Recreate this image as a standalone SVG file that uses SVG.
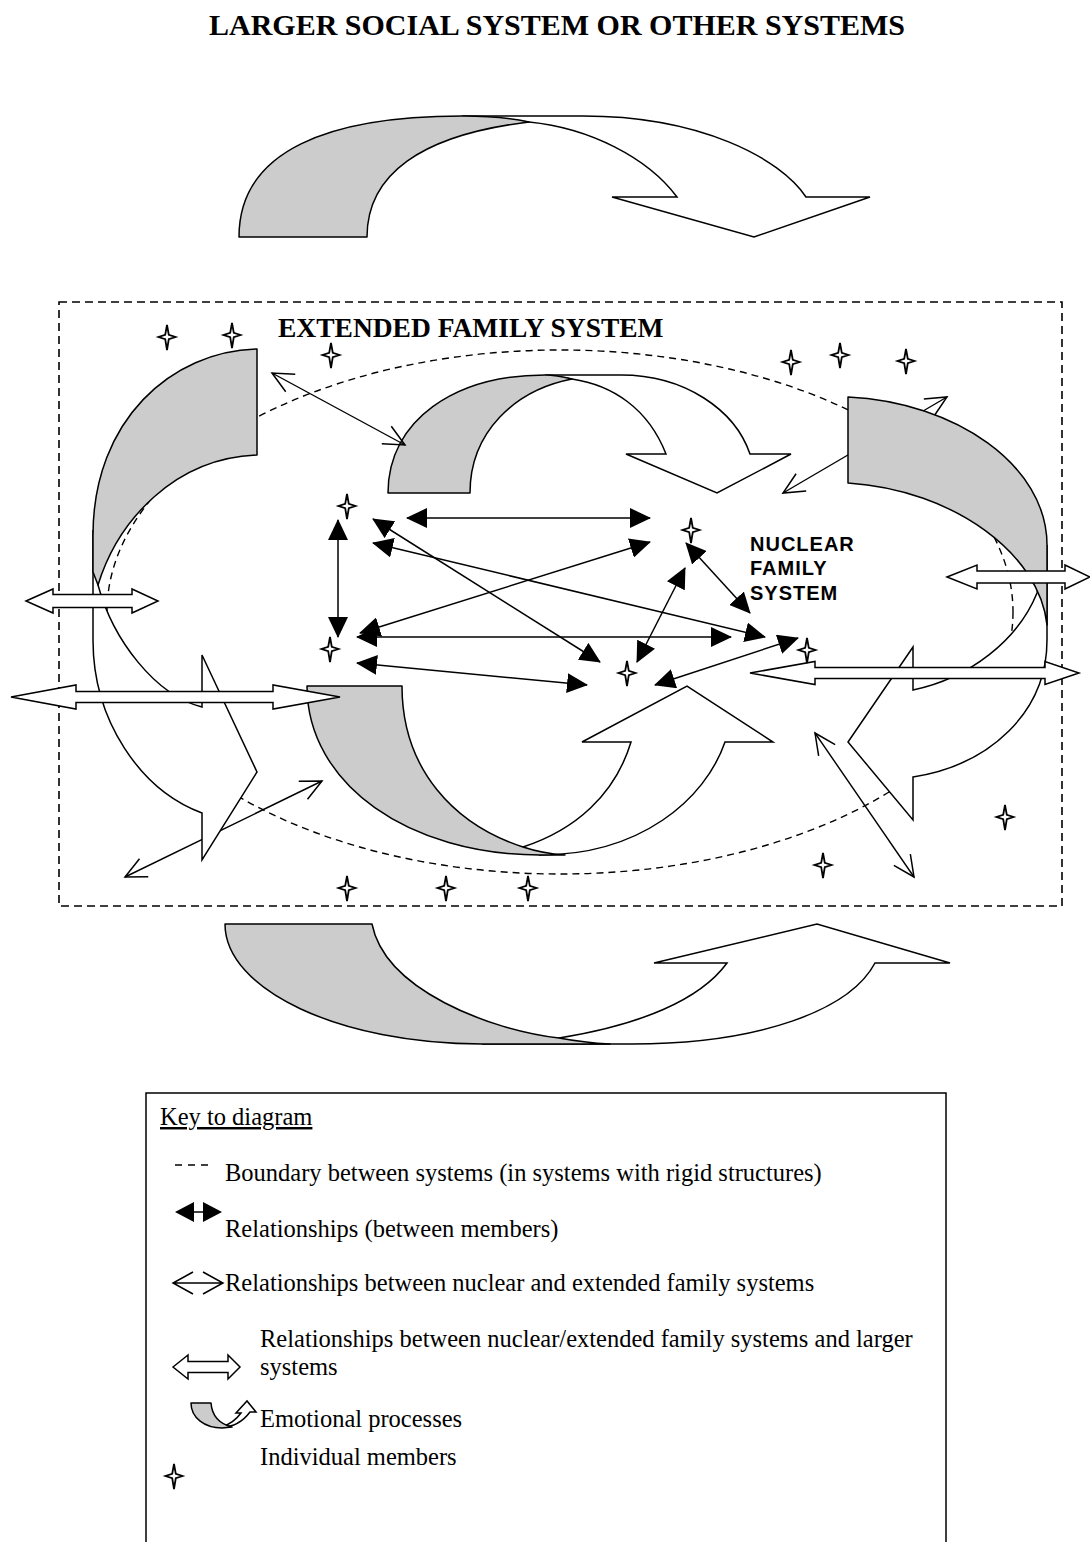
<svg xmlns="http://www.w3.org/2000/svg" width="1090" height="1542" viewBox="0 0 1090 1542">
<style>
.tb{font-family:"Liberation Serif","Times New Roman",serif;font-weight:bold;font-size:27.5px;}
.ts{font-family:"Liberation Serif","Times New Roman",serif;font-size:24.5px;}
.nf{font-family:"Liberation Sans",Arial,sans-serif;font-weight:bold;font-size:20px;letter-spacing:1px;}
.g{fill:#cccccc;stroke:#000;stroke-width:1.5;stroke-linejoin:round;}
.w{fill:#fff;stroke:#000;stroke-width:1.5;stroke-linejoin:miter;}
.dash{fill:none;stroke:#000;stroke-width:1.6;stroke-dasharray:8 5;}
.rel{fill:none;stroke:#000;stroke-width:1.5;marker-start:url(#solid);marker-end:url(#solid);}
.ext{fill:none;stroke:#000;stroke-width:1.4;marker-start:url(#open);marker-end:url(#open);}
.blk{fill:#fff;stroke:#000;stroke-width:1.5;}
.star{fill:#fff;stroke:#000;stroke-width:1.8;}
</style>
<defs>
<marker id="solid" viewBox="0 0 21 20" refX="20" refY="10" markerWidth="21" markerHeight="20" markerUnits="userSpaceOnUse" orient="auto-start-reverse"><path d="M0,0 L21,10 L0,20 Z" fill="#000"/></marker>
<marker id="open" viewBox="-2 -2 26 24" refX="21" refY="10" markerWidth="26" markerHeight="24" markerUnits="userSpaceOnUse" orient="auto-start-reverse"><path d="M0,0 L21,10 L0,20" fill="none" stroke="#000" stroke-width="1.5"/></marker>
<path id="starp" d="M0,-12 L1.8,-2.2 L8.5,0 L1.8,2.2 L0,13 L-1.8,2.2 L-8.5,0 L-1.8,-2.2 Z"/>
</defs>
<rect width="1090" height="1542" fill="#fff"/>

<g id="title-larger"><text class="tb" x="557" y="35" text-anchor="middle" style="font-size:30px">LARGER SOCIAL SYSTEM OR OTHER SYSTEMS</text></g>

<g id="emo-top">
<path class="w" d="M462,116 L583,116 C700,116 780,158 806,197 L870,197 L754,237 L612,197 L677,197 C648,158 590,128 529,122 Z"/>
<path class="g" d="M239,237 C239,150 330,116 462,116 C490,116 512,118 529,122 C420,135 367,175 367,237 Z"/>
</g>

<g id="extended-family-system">
<rect class="dash" x="59" y="302" width="1003" height="604"/>
<text class="tb" x="278" y="337">EXTENDED FAMILY SYSTEM</text>
</g>

<g id="nuclear-boundary">
<ellipse cx="560" cy="612" rx="453" ry="262" fill="none" stroke="#000" stroke-width="1.4" stroke-dasharray="7 5"/>
</g>

<g id="connectors-back">
<line class="ext" x1="783" y1="493" x2="947" y2="397"/>
<line class="ext" x1="125" y1="877" x2="322" y2="781"/>
</g>

<g id="emo-nuclear-top">
<path class="w" d="M545,375 L621,375 C685,375 735,410 750,454 L791,454 L717,493 L626,454 L666,454 C648,408 612,385 572,379 Z"/>
<path class="g" d="M388,493 C388,420 455,375 545,375 C555,375 564,377 572,379 C515,390 470,432 470,493 Z"/>
</g>

<g id="emo-left">
<path class="w" d="M93,530 L93,640 C93,720 140,790 202,813 L202,860 L257,772 L202,655 L202,707 C155,695 113,640 98,585 Z"/>
<path class="g" d="M257,349 C172,351 93,420 93,535 L93,572 L98,585 C118,520 175,458 257,455 Z"/>
</g>

<g id="emo-right">
<path class="w" d="M1047,545 L1047,640 C1047,712 990,765 913,777 L913,820 L848,742 L913,647 L913,690 C970,678 1018,640 1037,593 Z"/>
<path class="g" d="M848,397 C955,402 1047,465 1047,545 L1047,625 C1040,555 955,490 848,483 Z"/>
</g>

<g id="emo-nuclear-bottom">
<path class="w" d="M540,855 C640,855 705,800 725,742 L773,742 L687,686 L582,742 L631,742 C615,795 575,830 523,847 Z"/>
<path class="g" d="M307,686 L402,686 C402,770 455,825 523,847 C535,851 550,854 565,855 L540,855 C410,855 307,785 307,686 Z"/>
</g>

<g id="emo-bottom">
<path class="w" d="M482,1044 L632,1044 C760,1044 850,1010 875,963 L950,963 L817,924 L654,963 L727,963 C700,1000 640,1025 559,1038 Z"/>
<path class="g" d="M225,924 L372,924 C385,990 490,1030 559,1038 C575,1041 590,1043 610,1044 L482,1044 C340,1044 225,990 225,924 Z"/>
</g>

<g id="connectors">
<path class="blk" d="M26,601 L53,589 L53,594.5 L132,594.5 L132,589 L158,601 L132,613 L132,607.5 L53,607.5 L53,613 Z"/>
<path class="blk" d="M11,697 L76,685 L76,691.5 L273,691.5 L273,685 L340,697 L273,709 L273,702.5 L76,702.5 L76,709 Z"/>
<path class="blk" d="M947,577 L977,565 L977,571 L1065,571 L1065,565 L1090,577 L1065,589 L1065,583 L977,583 L977,589 Z"/>
<path class="blk" d="M750,673 L815,661.5 L815,667.5 L1045,667.5 L1045,661.5 L1079,673 L1045,684.5 L1045,678.5 L815,678.5 L815,684.5 Z"/>
<line class="ext" x1="272" y1="373" x2="405" y2="445"/>
<line class="ext" x1="815" y1="733" x2="914" y2="877"/>
<line class="rel" x1="338" y1="520" x2="338" y2="637"/>
<line class="rel" x1="407" y1="518" x2="650" y2="518"/>
<line class="rel" x1="373" y1="519" x2="600" y2="662"/>
<line class="rel" x1="373" y1="543" x2="765" y2="637"/>
<line class="rel" x1="357" y1="637" x2="731" y2="637"/>
<line class="rel" x1="650" y1="542" x2="360" y2="633"/>
<line class="rel" x1="357" y1="663" x2="587" y2="685"/>
<line class="rel" x1="637" y1="662" x2="685" y2="568"/>
<line class="rel" x1="686" y1="543" x2="750" y2="613"/>
<line class="rel" x1="655" y1="685" x2="798" y2="638"/>
</g>

<g id="members">
<g id="m1"><use href="#starp" class="star" x="167" y="337"/></g>
<g id="m2"><use href="#starp" class="star" x="232" y="335"/></g>
<g id="m3"><use href="#starp" class="star" x="331" y="355"/></g>
<g id="m4"><use href="#starp" class="star" x="791" y="362"/></g>
<g id="m5"><use href="#starp" class="star" x="840" y="355"/></g>
<g id="m6"><use href="#starp" class="star" x="906" y="361"/></g>
<g id="m7"><use href="#starp" class="star" x="347" y="506"/></g>
<g id="m8"><use href="#starp" class="star" x="691" y="530"/></g>
<g id="m9"><use href="#starp" class="star" x="330" y="649"/></g>
<g id="m10"><use href="#starp" class="star" x="627" y="673"/></g>
<g id="m11"><use href="#starp" class="star" x="807" y="650"/></g>
<g id="m12"><use href="#starp" class="star" x="1005" y="817"/></g>
<g id="m13"><use href="#starp" class="star" x="823" y="865"/></g>
<g id="m14"><use href="#starp" class="star" x="347" y="888"/></g>
<g id="m15"><use href="#starp" class="star" x="446" y="888"/></g>
<g id="m16"><use href="#starp" class="star" x="528" y="888"/></g>
</g>

<g id="nuclear-label">
<text class="nf" x="750" y="551">NUCLEAR</text>
<text class="nf" x="750" y="575">FAMILY</text>
<text class="nf" x="750" y="600">SYSTEM</text>
</g>

<g id="key">
<rect x="146" y="1093" width="800" height="480" fill="none" stroke="#000" stroke-width="1.5"/>
<text class="ts" x="160" y="1125" text-decoration="underline">Key to diagram</text>
<line x1="175" y1="1165" x2="208" y2="1165" stroke="#000" stroke-width="1.5" stroke-dasharray="7 6"/>
<text class="ts" x="225" y="1181">Boundary between systems (in systems with rigid structures)</text>
<path d="M175,1212 L194,1202 L194,1222 Z M222,1212 L203,1202 L203,1222 Z" fill="#000"/>
<line x1="194" y1="1212" x2="203" y2="1212" stroke="#000" stroke-width="1.5"/>
<text class="ts" x="225" y="1237">Relationships (between members)</text>
<path d="M193,1272 L173,1283 L193,1294 M203,1272 L223,1283 L203,1294 M173,1283 L223,1283" fill="none" stroke="#000" stroke-width="1.5"/>
<text class="ts" x="225" y="1291">Relationships between nuclear and extended family systems</text>
<text class="ts" x="260" y="1347">Relationships between nuclear/extended family systems and larger</text>
<path class="blk" d="M173,1367 L188,1355 L188,1361.5 L228,1361.5 L228,1355 L240,1367 L228,1379 L228,1372.5 L188,1372.5 L188,1379 Z"/>
<text class="ts" x="260" y="1375">systems</text>
<path class="w" d="M222,1427 C235,1427 244,1420 250,1412 L256,1412 L247,1401 L236,1413 L241,1413 C236,1420 230,1424 222,1427 Z"/>
<path class="g" d="M191,1403 L211,1403 C212,1416 220,1424 232,1427 L222,1428 C205,1428 191,1418 191,1403 Z"/>
<text class="ts" x="260" y="1427">Emotional processes</text>
<use href="#starp" class="star" x="174" y="1476"/>
<text class="ts" x="260" y="1465">Individual members</text>
</g>
</svg>
